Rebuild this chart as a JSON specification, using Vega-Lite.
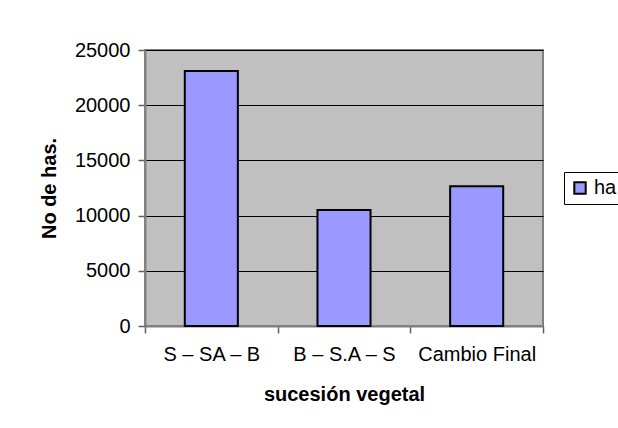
{
  "$schema": "https://vega.github.io/schema/vega-lite/v6.json",
  "width": 398,
  "height": 276,
  "autosize": {"type": "none"},
  "padding": {"left": 145, "top": 50, "right": 75, "bottom": 102},
  "background": "white",
  "data": {"values": [
    {"sucesion": "S – SA – B", "ha": 23100},
    {"sucesion": "B – S.A – S", "ha": 10500},
    {"sucesion": "Cambio Final", "ha": 12650}
  ]},
  "mark": {"type": "bar", "stroke": "#000", "strokeWidth": 2, "width": {"band": 0.4}},
  "encoding": {
    "x": {
      "field": "sucesion", "type": "nominal", "sort": null,
      "scale": {"paddingInner": 0, "paddingOuter": 0},
      "axis": {"title": "sucesión vegetal", "labelAngle": 0, "tickBand": "extent", "labelPadding": 11, "titlePadding": 20, "tickSize": 7}
    },
    "y": {
      "field": "ha", "type": "quantitative",
      "scale": {"domain": [0, 25000]},
      "axis": {"title": "No de has.", "values": [0, 5000, 10000, 15000, 20000, 25000], "grid": true, "format": "d", "tickSize": 7, "labelPadding": 8, "titlePadding": 15}
    },
    "color": {
      "datum": "ha", "type": "nominal",
      "scale": {"range": ["#9999FF"]},
      "legend": {
        "title": null, "orient": "none", "legendX": 419, "legendY": 122,
        "strokeColor": "#000", "padding": 6, "symbolType": "square", "symbolSize": 130,
        "symbolStrokeColor": "#000", "symbolStrokeWidth": 2, "labelFontSize": 20,
        "labelFont": "Liberation Sans", "labelColor": "#000", "labelOffset": 4, "fillColor": "white"
      }
    }
  },
  "config": {
    "view": {"fill": "#C0C0C0", "stroke": "#808080", "strokeWidth": 2},
    "axis": {
      "labelFont": "Liberation Sans", "labelFontSize": 20, "labelColor": "#000",
      "titleFont": "Liberation Sans", "titleFontSize": 20, "titleFontWeight": "bold", "titleColor": "#000",
      "domainColor": "#808080", "domainWidth": 2, "tickColor": "#606060", "tickWidth": 1.5,
      "gridColor": "#000", "gridOpacity": 1, "gridWidth": 1
    }
  }
}
